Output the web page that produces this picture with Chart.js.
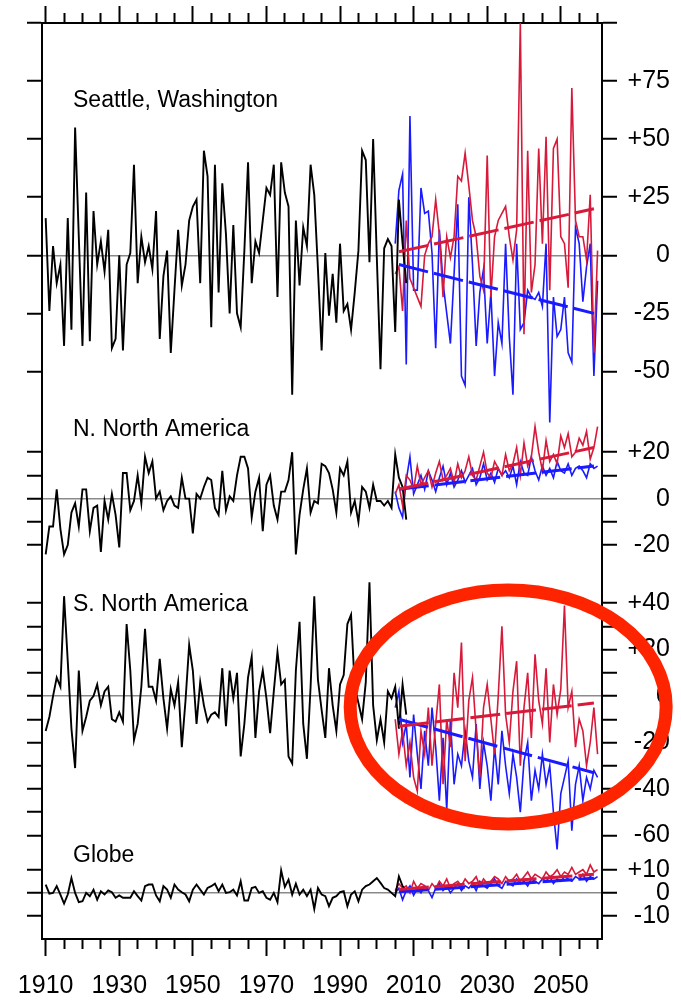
<!DOCTYPE html>
<html>
<head>
<meta charset="utf-8">
<script src="https://cdn.jsdelivr.net/npm/chart.js@4/dist/chart.umd.min.js"></script>
<style>
  html, body { margin: 0; padding: 0; background: #fff; }
  #wrap { width: 681px; height: 1001px; }
</style>
</head>
<body>
<div id="wrap"><canvas id="chart" width="681" height="1001"></canvas></div>
<script>
// ---- years ----
const histYears = [];
for (let y = 1910; y <= 2008; y++) histYears.push(y);
const projYears = [];
for (let y = 2005; y <= 2060; y++) projYears.push(y);
const trendYears = [2006, 2059];

const xTickYears = [];
for (let y = 1910; y <= 2060; y += 5) xTickYears.push(y);
const xLabelYears = [1910, 1930, 1950, 1970, 1990, 2010, 2030, 2050];

// ---- Seattle, Washington ----
const seattleObs = [16,-24,4,-12,-4,-39,16,-32,55,8, -39,27,-37,19,-4,6,-7,11,-40,-36,
  0,-41,-4,1,39,-12,8,-3,4,-6, 19,-36,-9,2,-42,-15,11,-13,-4,15,
  21,24,-12,45,34,-31,39,-16,31,9, -25,13,-25,-31,2,40,-12,6,1,15,
  29,26,39,-18,40,27,21,-60,15,-13, 12,4,39,26,-6,-41,1,-26,-8,-29,
  5,-24,-21,-32,-16,2,45,41,-3,50, -1,-49,3,7,4,-33,24,5,-12];
const seattleRed = [-8,-5,-24,15,-10,-14,-18,-22,0,5, 8,24,9,-18,8,-1,8,34,32,44,
  30,15,8,-9,-15,43,-18,8,15,18, 21,8,-2,11,100,-34,45,-16,-4,46,
  5,51,-15,46,50,8,5,-14,72,15, 8,8,-2,26,-42,2];
const seattleBlue = [5,28,35,-47,60,-15,-15,29,18,19, 1,-40,11,-12,-25,-38,-8,22,-52,-56,
  25,-4,-39,-16,-6,-38,-16,-52,-29,-38, 5,-35,-60,5,-32,-29,-15,-18,-19,-16,
  -22,5,-72,-18,-35,-32,-18,-42,-46,12, 5,-20,-5,5,-52,-11];
const seattleRedTrend = [1.5, 20];
const seattleBlueTrend = [-4, -25];
const seattleTicks = [100, 75, 50, 25, 0, -25, -50];
const seattleTickLabels = ['', '+75', '+50', '+25', '0', '-25', '-50'];

// ---- N. North America ----
const nnaObs = [-24,-12,-12,4,-13,-24,-20,-6,-2,-12, 4,4,-14,-4,-3,-23,-1,-9,2,-7,
  -21,11,11,-5,-1,10,-2,18,11,16, 0,3,-5,-1,1,-3,-4,9,0,0,
  -15,2,0,5,9,8,-4,-7,12,-5, 1,-1,10,18,18,13,-8,3,9,-14,
  6,10,-3,-9,3,3,8,20,-24,-7, 4,13,-6,-1,-2,15,14,11,4,-6,
  13,10,16,-6,-1,-10,5,3,-4,6, -1,-1,-3,-1,-4,19,9,5,-9];
const nnaRed = [2,6,-3,10,8,4,14,6,9,12, 5,11,16,8,10,13,7,15,9,12,
  18,10,8,14,20,11,9,16,13,10, 19,12,15,22,10,24,14,18,31,20,
  12,25,16,19,15,27,22,28,18,20, 26,23,29,17,22,31];
const nnaBlue = [3,-4,-8,8,18,2,6,10,4,12, 8,3,9,14,6,11,5,8,12,7,
  10,13,6,9,15,8,11,7,13,10, 12,9,14,6,16,11,10,18,12,8,
  14,10,13,9,16,12,11,15,10,13, 14,12,9,15,13,14];
const nnaRedTrend = [4, 22];
const nnaBlueTrend = [4, 14];
const nnaTicks = [20, 10, 0, -10, -20];
const nnaTickLabels = ['+20', '', '0', '', '-20'];

// ---- S. North America ----
const snaObs = [-15,-9,0,8,4,43,15,-14,-31,11, -15,-9,-2,0,5,-4,2,4,-10,-11,
  -7,-11,31,11,-19,-12,4,29,4,4, -2,16,-1,-14,3,-4,6,-22,-2,22,
  11,-12,6,-4,-11,-8,-7,-9,12,-13, 11,-1,10,-26,-12,8,17,-18,2,11,
  -1,-16,2,19,5,7,-26,-29,11,32, -12,-27,4,43,7,-6,-18,12,-4,-15,
  5,9,31,35,4,-3,-10,6,49,-4, -19,-10,-20,2,-1,4,-14,5,-8];
const snaRed = [-10,-25,-15,-30,-20,-35,-41,-15,-25,-5, -30,-12,5,-38,-10,-22,10,-5,23,-28,
  -2,8,-15,-35,-5,5,-10,-25,0,30, -8,-20,2,15,-30,-5,10,-18,18,-2,
  -12,12,-20,5,-8,3,39,-5,2,-22, -10,-15,-30,-20,-5,-25];
const snaBlue = [-5,2,-20,-12,-35,-8,-25,-40,-15,-30, -5,-22,-45,-18,-49,-10,-38,-25,-30,-15,
  -28,-35,-12,-40,-20,-30,-45,-22,-38,-15, -30,-42,-25,-35,-50,-28,-20,-45,-32,-40,
  -25,-38,-30,-50,-66,-42,-35,-28,-58,-38, -30,-45,-35,-40,-32,-35];
const snaRedTrend = [-13, -3];
const snaBlueTrend = [-10, -33];
const snaTicks = [40, 30, 20, 10, 0, -10, -20, -30, -40, -50, -60];
const snaTickLabels = ['+40', '', '+20', '', '0', '', '-20', '', '-40', '', '-60'];

// ---- Globe ----
const globeObs = [3.6,-0.3,0,2.9,-0.7,-4.6,-0.7,6.4,0,-4, -3.6,0,-1.4,1.4,-2.9,0.7,-0.7,1.1,0.3,-2.1,
  -1.1,-2.1,-2.1,-2.1,0.7,-1.4,-3.3,2.9,3.6,3.6, -1.1,-3.6,2.9,1.4,-2.1,3.6,1.4,0.3,-0.7,-3.6,
  1.4,3.6,1.4,-0.7,2.1,2.9,4,0.7,3.6,0, 0.3,1.4,-1.1,5,-3.3,-3.3,2.1,2.6,0,0.7,
  -2.1,-2.9,0,-4,9.7,2.6,5.7,-0.7,4,-0.7, 1.4,-1.4,1.4,-6.9,2.1,-0.7,-1.4,-5.7,-2.1,-1.4,
  0.3,0.7,-5.7,-0.7,0.7,-3.6,1.4,2.9,3.6,5, 6.4,4.3,2.1,1.4,0,-1.4,7.1,2.9,0.7];
const globeRed = [1,4,2,3,0,5,2,4,3,1, 4,2,5,3,6,2,4,5,3,6, 4,5,7,3,6,4,5,7,6,4,
  7,5,6,8,5,7,9,6,8,7, 6,9,7,8,10,7,9,8,11,8, 9,10,8,12,9,10];
const globeBlue = [0,2,-3,1,3,-1,2,0,3,1, -2,2,4,1,3,0,2,4,1,3, 2,4,1,5,3,2,4,6,3,2,
  5,4,3,6,4,5,3,6,5,4, 6,5,7,4,6,5,7,6,5,7, 6,8,5,7,6,7];
const globeRedTrend = [1.5, 8];
const globeBlueTrend = [0.5, 6.3];
const globeTicks = [10, 0, -10];
const globeTickLabels = ['+10', '0', '-10'];

// ---- layout (pixels) ----
const FONT = '"Liberation Sans", Arial, Helvetica, sans-serif';
const PX_PER_UNIT = 2.333;
const LEFT_W = 42, RIGHT_W = 68, RIGHT_PAD = 11, TOP_H = 19, BOTTOM_H = 62;
const BANDS = [
  { top: 19,  bottom: 409, zero: 252.3 },
  { top: 409, bottom: 572, zero: 496.7 },
  { top: 572, bottom: 852, zero: 695 },
  { top: 852, bottom: 939, zero: 892.7 }
];
const TITLE_POS = [[73, 106.5], [73, 436], [73, 610.5], [73, 862]];
const RED = '#d7193a';
const BLUE = '#1a1aff';
const GREY = '#8a8a8a';

const panels = [
  { title: 'Seattle, Washington', obs: seattleObs, red: seattleRed, blue: seattleBlue,
    redTrend: seattleRedTrend, blueTrend: seattleBlueTrend, ticks: seattleTicks, labels: seattleTickLabels },
  { title: 'N. North America', obs: nnaObs, red: nnaRed, blue: nnaBlue,
    redTrend: nnaRedTrend, blueTrend: nnaBlueTrend, ticks: nnaTicks, labels: nnaTickLabels },
  { title: 'S. North America', obs: snaObs, red: snaRed, blue: snaBlue,
    redTrend: snaRedTrend, blueTrend: snaBlueTrend, ticks: snaTicks, labels: snaTickLabels },
  { title: 'Globe', obs: globeObs, red: globeRed, blue: globeBlue,
    redTrend: globeRedTrend, blueTrend: globeBlueTrend, ticks: globeTicks, labels: globeTickLabels }
];

const pts = (years, vals) => vals.map((v, i) => ({ x: years[i], y: v }));

const datasets = [];
panels.forEach((p, i) => {
  const yid = 'yR' + i;
  const common = { yAxisID: yid, xAxisID: 'x', pointRadius: 0, tension: 0, clip: false, fill: false };
  datasets.push({ ...common, label: p.title + ' blue', data: pts(projYears, p.blue),
    borderColor: BLUE, borderWidth: 1.6, order: 3 });
  datasets.push({ ...common, label: p.title + ' red', data: pts(projYears, p.red),
    borderColor: RED, borderWidth: 1.6, order: 2 });
  datasets.push({ ...common, label: p.title, data: pts(histYears, p.obs),
    borderColor: '#000', borderWidth: 1.9, order: 1 });
  datasets.push({ ...common, label: p.title + ' red trend', data: pts(trendYears, p.redTrend),
    borderColor: RED, borderWidth: 3, borderDash: [30, 6], order: 0 });
  datasets.push({ ...common, label: p.title + ' blue trend', data: pts(trendYears, p.blueTrend),
    borderColor: BLUE, borderWidth: 3, borderDash: [30, 6], order: 0 });
});

function yAxis(i, side) {
  const b = BANDS[i];
  const right = side === 'right';
  return {
    type: 'linear',
    position: side,
    stack: right ? 'panelsRight' : 'panelsLeft',
    stackWeight: b.bottom - b.top,
    weight: right ? i : 3 - i,
    min: -(b.bottom - b.zero) / PX_PER_UNIT,
    max: (b.zero - b.top) / PX_PER_UNIT,
    afterBuildTicks: s => { s.ticks = panels[i].ticks.map(v => ({ value: v })); },
    afterFit: s => { s.width = right ? RIGHT_W : LEFT_W; },
    ticks: {
      display: right,
      autoSkip: false,
      crossAlign: 'far',
      padding: 8,
      color: '#000',
      font: { family: FONT, size: 25 },
      callback: (v, idx) => panels[i].labels[idx]
    },
    grid: {
      drawOnChartArea: right,
      color: ctx => (ctx.tick && ctx.tick.value === 0) ? GREY : 'rgba(0,0,0,0)',
      lineWidth: 1.5,
      tickColor: '#000',
      tickLength: 15,
      tickWidth: 2
    },
    border: { display: true, color: '#000', width: 2 }
  };
}

function xAxis(pos) {
  const bottom = pos === 'bottom';
  return {
    type: 'linear',
    position: pos,
    axis: 'x',
    min: 1909,
    max: 2061.2,
    afterBuildTicks: s => { s.ticks = xTickYears.map(v => ({ value: v })); },
    afterFit: s => { s.height = bottom ? BOTTOM_H : TOP_H; },
    ticks: {
      display: bottom,
      autoSkip: false,
      maxRotation: 0,
      minRotation: 0,
      padding: 15,
      color: '#000',
      font: { family: FONT, size: 25 },
      callback: v => xLabelYears.includes(v) ? String(v) : ''
    },
    grid: {
      drawOnChartArea: false,
      tickLength: 17,
      tickWidth: 2,
      tickColor: '#000',
      tickBorderDash: ctx => {
        const major = ctx.tick && (ctx.tick.value - 1910) % 20 === 0;
        if (major) return [];
        return bottom ? [9, 40] : [0, 7, 10, 40];
      }
    },
    border: { display: true, color: '#000', width: 2 }
  };
}

const scales = { x: xAxis('bottom'), xTop: xAxis('top') };
for (let i = 0; i < 4; i++) {
  scales['yR' + i] = yAxis(i, 'right');
  scales['yL' + i] = yAxis(i, 'left');
}

// panel titles and the highlight ring around the southern projections
const annotations = {
  id: 'annotations',
  afterDatasetsDraw(chart) {
    const ctx = chart.ctx;
    ctx.save();
    ctx.fillStyle = '#000';
    ctx.font = '23px ' + FONT;
    ctx.textBaseline = 'alphabetic';
    ctx.textAlign = 'left';
    panels.forEach((p, i) => ctx.fillText(p.title, TITLE_POS[i][0], TITLE_POS[i][1]));
    ctx.restore();
  },
  afterDraw(chart) {
    const ctx = chart.ctx;
    const xs = chart.scales.x, ys = chart.scales.yR2;
    const cx = xs.getPixelForValue(2035.7), cy = ys.getPixelForValue(-4.7);
    ctx.save();
    ctx.strokeStyle = '#ff2400';
    ctx.lineWidth = 13;
    ctx.beginPath();
    ctx.ellipse(cx, cy, 158, 117, 0, 0, Math.PI * 2);
    ctx.stroke();
    ctx.restore();
  }
};

new Chart(document.getElementById('chart'), {
  type: 'line',
  data: { datasets },
  options: {
    responsive: false,
    animation: false,
    devicePixelRatio: 1,
    layout: { padding: { left: 0, top: 0, bottom: 0, right: RIGHT_PAD } },
    plugins: { legend: { display: false }, tooltip: { enabled: false } },
    scales
  },
  plugins: [annotations]
});
</script>
</body>
</html>
